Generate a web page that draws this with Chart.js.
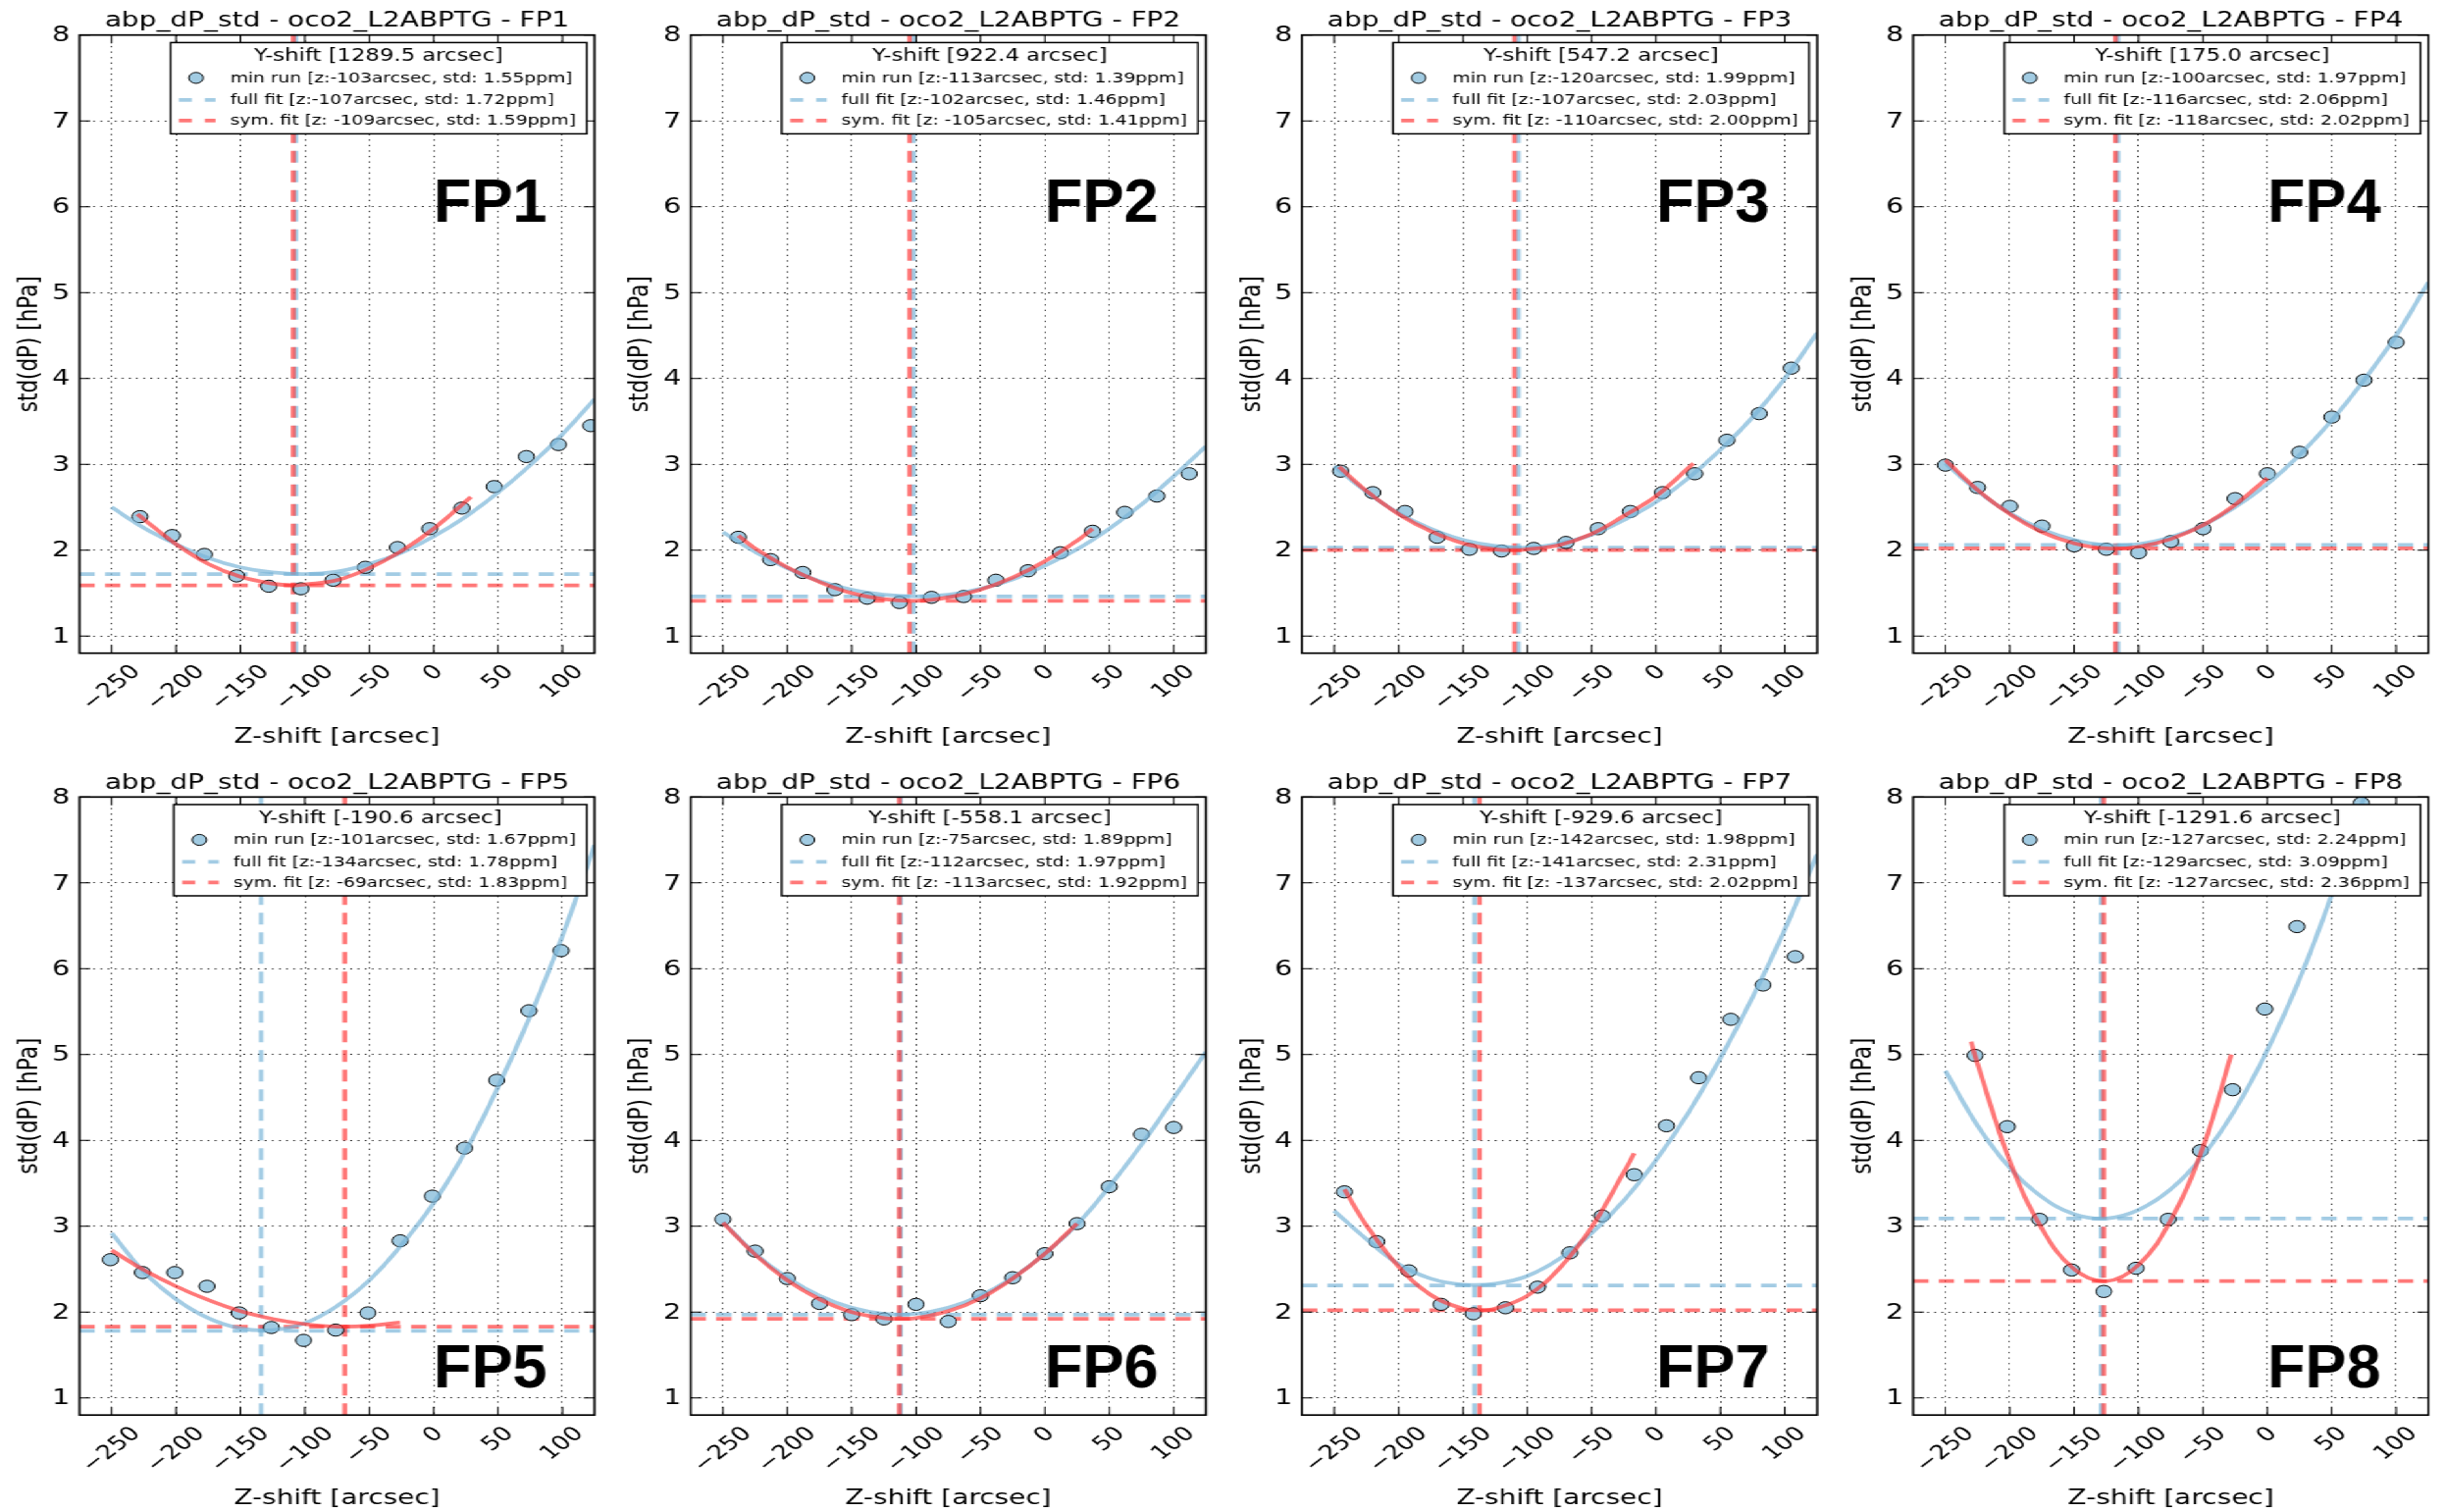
<!DOCTYPE html>
<html>
<head>
<meta charset="utf-8">
<title>abp_dP_std - oco2_L2ABPTG</title>
<script src="https://cdn.jsdelivr.net/npm/chart.js@4.4.1/dist/chart.umd.min.js"></script>
<style>
  html, body { margin: 0; padding: 0; background: #fff; overflow: hidden; }
  #sheet { position: absolute; left: 0; top: 0; width: 1918px; height: 1541px;
           transform-origin: 0 0; transform: scaleX(1.29979); }
  #sheet canvas { position: absolute; }
</style>
</head>
<body>
<div id="sheet"></div>
<script>
// ---- panel summary values (legend entries) ----
const panelNames   = ['FP1', 'FP2', 'FP3', 'FP4', 'FP5', 'FP6', 'FP7', 'FP8'];
const yShiftLabels = ['1289.5', '922.4', '547.2', '175.0', '-190.6', '-558.1', '-929.6', '-1291.6'];
const minRunZ      = [-103, -113, -120, -100, -101, -75, -142, -127];
const minRunStd    = [1.55, 1.39, 1.99, 1.97, 1.67, 1.89, 1.98, 2.24];
const fullFitZ     = [-107, -102, -107, -116, -134, -112, -141, -129];
const fullFitStd   = [1.72, 1.46, 2.03, 2.06, 1.78, 1.97, 2.31, 3.09];
const symFitZ      = [-109, -105, -110, -118, -69, -113, -137, -127];
const symFitStd    = [1.59, 1.41, 2.00, 2.02, 1.83, 1.92, 2.02, 2.36];

// ---- axes ----
const zRange      = [-275, 125];
const stdRange    = [0.8, 8];
const xTickValues = [-250, -200, -150, -100, -50, 0, 50, 100];
const xTickLabels = ['\u2212250', '\u2212200', '\u2212150', '\u2212100', '\u221250', '0', '50', '100'];
const yTickValues = [1, 2, 3, 4, 5, 6, 7, 8];
const yTickLabels = ['1', '2', '3', '4', '5', '6', '7', '8'];

// ---- individual runs (Z-shift, std(dP)) ----
const runZ1 = [-228, -203, -178, -153, -128, -103, -78, -53, -28, -3, 22, 47, 72, 97, 122];
const runS1 = [2.39, 2.17, 1.95, 1.70, 1.58, 1.55, 1.65, 1.80, 2.03, 2.25, 2.49, 2.74, 3.09, 3.23, 3.45];
const runZ2 = [-238, -213, -188, -163, -138, -113, -88, -63, -38, -13, 12, 37, 62, 87, 112];
const runS2 = [2.15, 1.89, 1.74, 1.54, 1.44, 1.39, 1.45, 1.46, 1.65, 1.76, 1.97, 2.22, 2.44, 2.63, 2.89];
const runZ3 = [-245, -220, -195, -170, -145, -120, -95, -70, -45, -20, 5, 30, 55, 80, 105];
const runS3 = [2.92, 2.67, 2.45, 2.15, 2.01, 1.99, 2.02, 2.09, 2.25, 2.45, 2.67, 2.89, 3.28, 3.59, 4.12];
const runZ4 = [-250, -225, -200, -175, -150, -125, -100, -75, -50, -25, 0, 25, 50, 75, 100];
const runS4 = [2.99, 2.73, 2.51, 2.28, 2.05, 2.01, 1.97, 2.10, 2.25, 2.60, 2.89, 3.14, 3.55, 3.98, 4.42];
const runZ5 = [-251, -226, -201, -176, -151, -126, -101, -76, -51, -26, -1, 24, 49, 74, 99];
const runS5 = [2.61, 2.46, 2.46, 2.30, 1.99, 1.82, 1.67, 1.79, 1.99, 2.83, 3.35, 3.91, 4.70, 5.51, 6.21];
const runZ6 = [-250, -225, -200, -175, -150, -125, -100, -75, -50, -25, 0, 25, 50, 75, 100];
const runS6 = [3.08, 2.71, 2.39, 2.10, 1.97, 1.92, 2.09, 1.89, 2.19, 2.40, 2.68, 3.03, 3.46, 4.07, 4.15];
const runZ7 = [-242, -217, -192, -167, -142, -117, -92, -67, -42, -17, 8, 33, 58, 83, 108];
const runS7 = [3.40, 2.82, 2.48, 2.09, 1.98, 2.05, 2.29, 2.69, 3.12, 3.60, 4.17, 4.73, 5.41, 5.81, 6.14];
const runZ8 = [-227, -202, -177, -152, -127, -102, -77, -52, -27, -2, 23, 48, 73];
const runS8 = [4.99, 4.16, 3.08, 2.49, 2.24, 2.51, 3.08, 3.88, 4.59, 5.53, 6.49, 7.20, 7.93];

// ---- full fit curves, sampled on a common Z grid ----
const fullGridZ = [-250, -225, -200, -175, -150, -125, -100, -75, -50, -25, 0, 25, 50, 75, 100, 125];
const fullS1 = [2.50, 2.26, 2.07, 1.91, 1.80, 1.74, 1.72, 1.75, 1.84, 1.97, 2.16, 2.39, 2.67, 2.99, 3.35, 3.76];
const fullS2 = [2.21, 1.98, 1.79, 1.64, 1.54, 1.48, 1.46, 1.48, 1.55, 1.66, 1.82, 2.01, 2.25, 2.53, 2.86, 3.21];
const fullS3 = [2.98, 2.68, 2.43, 2.25, 2.12, 2.05, 2.03, 2.08, 2.18, 2.35, 2.56, 2.84, 3.17, 3.55, 4.00, 4.53];
const fullS4 = [3.01, 2.69, 2.43, 2.24, 2.12, 2.06, 2.07, 2.15, 2.29, 2.50, 2.77, 3.11, 3.51, 3.98, 4.50, 5.12];
const fullS5 = [2.92, 2.47, 2.15, 1.93, 1.81, 1.79, 1.87, 2.07, 2.37, 2.78, 3.27, 3.88, 4.62, 5.45, 6.38, 7.44];
const fullS6 = [3.05, 2.68, 2.40, 2.19, 2.05, 1.98, 1.98, 2.05, 2.19, 2.40, 2.68, 3.02, 3.46, 3.95, 4.49, 5.03];
const fullS7 = [3.18, 2.85, 2.56, 2.39, 2.32, 2.33, 2.42, 2.62, 2.92, 3.30, 3.77, 4.32, 4.96, 5.67, 6.46, 7.33];
const fullS8 = [4.81, 4.17, 3.68, 3.34, 3.14, 3.09, 3.19, 3.43, 3.82, 4.36, 5.05, 5.88, 6.86, 7.99];

// ---- symmetric fit curves ----
const symZ1 = [-230, -225, -200, -175, -150, -125, -109, -100, -75, -50, -25, 0, 29];
const symS1 = [2.42, 2.36, 2.07, 1.84, 1.69, 1.61, 1.59, 1.60, 1.65, 1.79, 1.99, 2.25, 2.62];
const symZ2 = [-238, -225, -200, -175, -150, -125, -100, -75, -50, -25, 0, 25, 37];
const symS2 = [2.17, 2.02, 1.80, 1.63, 1.50, 1.43, 1.41, 1.45, 1.54, 1.68, 1.87, 2.11, 2.25];
const symZ3 = [-246, -225, -200, -175, -150, -125, -110, -100, -75, -50, -25, 0, 29];
const symS3 = [2.97, 2.69, 2.42, 2.22, 2.08, 2.01, 2.00, 2.01, 2.06, 2.19, 2.40, 2.63, 3.01];
const symZ4 = [-250, -225, -200, -175, -150, -125, -100, -75, -50, -25, 0];
const symS4 = [3.05, 2.70, 2.42, 2.21, 2.08, 2.02, 2.04, 2.13, 2.29, 2.53, 2.84];
const symZ5 = [-250, -225, -200, -175, -150, -125, -100, -75, -50, -26];
const symS5 = [2.72, 2.49, 2.30, 2.14, 2.01, 1.92, 1.86, 1.83, 1.84, 1.88];
const symZ6 = [-250, -225, -200, -175, -150, -125, -113, -100, -75, -50, -25, 0, 25];
const symS6 = [3.04, 2.67, 2.37, 2.15, 2.00, 1.93, 1.92, 1.93, 2.01, 2.16, 2.39, 2.68, 3.03];
const symZ7 = [-242, -225, -200, -175, -150, -137, -125, -100, -75, -50, -25, -17];
const symS7 = [3.43, 3.01, 2.53, 2.20, 2.04, 2.02, 2.04, 2.19, 2.51, 2.99, 3.63, 3.85];
const symZ8 = [-230, -225, -200, -175, -150, -125, -100, -75, -50, -28];
const symS8 = [5.15, 4.89, 3.76, 2.97, 2.50, 2.36, 2.55, 3.07, 3.92, 5.00];

const runZ  = [runZ1, runZ2, runZ3, runZ4, runZ5, runZ6, runZ7, runZ8];
const runS  = [runS1, runS2, runS3, runS4, runS5, runS6, runS7, runS8];
const fullS = [fullS1, fullS2, fullS3, fullS4, fullS5, fullS6, fullS7, fullS8];
const symZ  = [symZ1, symZ2, symZ3, symZ4, symZ5, symZ6, symZ7, symZ8];
const symS  = [symS1, symS2, symS3, symS4, symS5, symS6, symS7, symS8];

// ---- look ----
const SX = 2493 / 1918;               // horizontal stretch applied to #sheet
const FONT = '"DejaVu Sans", "Bitstream Vera Sans", sans-serif';
const BLUE = 'rgba(120, 180, 215, 0.68)';
const RED = 'rgba(255, 50, 50, 0.66)';
const MARKER = '#a1cbe2';
const TICK = 8.5;
const LINE_W = 3.7;

const zip = (xs, ys) => ys.map((y, k) => ({ x: xs[k], y }));

const panelDecor = {
  id: 'panelDecor',
  afterDraw(chart, args, opts) {
    const i = opts.index;
    const row = Math.floor(i / 4);
    const ctx = chart.ctx;
    const a = chart.chartArea;
    const xs = chart.scales.x, ys = chart.scales.y;
    ctx.save();
    ctx.setLineDash([]);
    ctx.fillStyle = '#000';
    ctx.strokeStyle = '#000';

    // inward tick marks on all four sides
    ctx.lineWidth = 1.1;
    ctx.beginPath();
    xTickValues.forEach(v => {
      const p = xs.getPixelForValue(v);
      ctx.moveTo(p, a.bottom); ctx.lineTo(p, a.bottom - TICK);
      ctx.moveTo(p, a.top);    ctx.lineTo(p, a.top + TICK);
    });
    yTickValues.forEach(v => {
      const p = ys.getPixelForValue(v);
      ctx.moveTo(a.left, p);  ctx.lineTo(a.left + TICK, p);
      ctx.moveTo(a.right, p); ctx.lineTo(a.right - TICK, p);
    });
    ctx.stroke();

    // legend box
    const rows = [
      `min run [z:${minRunZ[i]}arcsec, std: ${minRunStd[i].toFixed(2)}ppm]`,
      `full fit [z:${fullFitZ[i]}arcsec, std: ${fullFitStd[i].toFixed(2)}ppm]`,
      `sym. fit [z: ${symFitZ[i]}arcsec, std: ${symFitStd[i].toFixed(2)}ppm]`
    ];
    ctx.font = `14.4px ${FONT}`;
    const tw = Math.max(...rows.map(r => ctx.measureText(r).width));
    const bw = 46.7 + tw + 8.5, bh = 93;
    const bx = a.right - 6.2 - bw, by = a.top + 7.7;
    ctx.fillStyle = '#fff';
    ctx.fillRect(bx, by, bw, bh);
    ctx.lineWidth = 1.5;
    ctx.strokeStyle = '#000';
    ctx.strokeRect(bx, by, bw, bh);

    ctx.fillStyle = '#000';
    ctx.font = `17.5px ${FONT}`;
    ctx.textAlign = 'center';
    ctx.textBaseline = 'alphabetic';
    ctx.fillText(`Y-shift [${yShiftLabels[i]} arcsec]`, bx + bw / 2, by + 19);

    const rowY = [by + 36, by + 58.4, by + 79.4];
    // marker handle
    ctx.beginPath();
    ctx.arc(bx + 20, rowY[0], 5.6, 0, Math.PI * 2);
    ctx.fillStyle = MARKER; ctx.fill();
    ctx.lineWidth = 1; ctx.strokeStyle = '#000'; ctx.stroke();
    // dashed handles
    [[BLUE, rowY[1]], [RED, rowY[2]]].forEach(([c, y]) => {
      ctx.strokeStyle = c; ctx.lineWidth = LINE_W;
      ctx.beginPath();
      ctx.moveTo(bx + 6.5, y); ctx.lineTo(bx + 16.7, y);
      ctx.moveTo(bx + 26.9, y); ctx.lineTo(bx + 35.2, y);
      ctx.stroke();
    });
    ctx.fillStyle = '#000';
    ctx.font = `14.4px ${FONT}`;
    ctx.textAlign = 'left';
    ctx.textBaseline = 'middle';
    rows.forEach((r, k) => ctx.fillText(r, bx + 46.7, rowY[k] + 0.5));

    // frame
    ctx.lineWidth = 1.7;
    ctx.strokeStyle = '#000';
    ctx.strokeRect(a.left, a.top, a.right - a.left, a.bottom - a.top);

    // big footprint label (kept unstretched)
    ctx.save();
    const fy = row === 0 ? a.top + 190.3 : a.bottom - 28.5;
    ctx.translate(a.left + 361 / SX, fy);
    ctx.scale(1 / SX, 1);
    ctx.font = 'bold 63px "Liberation Sans", Arial, Helvetica, sans-serif';
    ctx.textAlign = 'left';
    ctx.textBaseline = 'alphabetic';
    ctx.fillStyle = '#000';
    ctx.fillText(panelNames[i], 0, 0);
    ctx.restore();

    // tick labels
    ctx.fillStyle = '#000';
    ctx.font = `22px ${FONT}`;
    ctx.textAlign = 'right';
    ctx.textBaseline = 'middle';
    yTickValues.forEach((v, k) => {
      ctx.fillText(yTickLabels[k], a.left - 7.5, ys.getPixelForValue(v) + 1);
    });
    ctx.font = `20px ${FONT}`;
    ctx.textAlign = 'center';
    xTickValues.forEach((v, k) => {
      const w = ctx.measureText(xTickLabels[k]).width;
      const half = (w + 14) * Math.SQRT1_2 / 2;
      ctx.save();
      ctx.translate(xs.getPixelForValue(v), a.bottom + 11 + half);
      ctx.rotate(-Math.PI / 4);
      ctx.fillText(xTickLabels[k], 0, 0);
      ctx.restore();
    });

    // titles
    const cxm = (a.left + a.right) / 2;
    ctx.font = `21.5px ${FONT}`;
    ctx.textAlign = 'center';
    ctx.textBaseline = 'alphabetic';
    ctx.fillText(`abp_dP_std - oco2_L2ABPTG - ${panelNames[i]}`, cxm, a.top - 8.4);
    ctx.fillText('Z-shift [arcsec]', cxm, a.bottom + 91);
    ctx.save();
    ctx.translate(a.left - 39, (a.top + a.bottom) / 2);
    ctx.rotate(-Math.PI / 2);
    ctx.textBaseline = 'middle';
    ctx.fillText('std(dP) [hPa]', 0, 0);
    ctx.restore();

    ctx.restore();
  }
};

const sheet = document.getElementById('sheet');
for (let i = 0; i < 8; i++) {
  const col = i % 4, row = Math.floor(i / 4);
  const plotL = (81 + 623 * col) / SX, plotW = 525 / SX;
  const plotT = row === 0 ? 35.7 : 812.3;
  const plotB = row === 0 ? 665.7 : 1442.2;
  const cx = Math.round(col * 1918 / 4);
  const cw = Math.round((col + 1) * 1918 / 4) - cx;
  const cy = row === 0 ? 0 : 770, ch = row === 0 ? 770 : 771;

  const canvas = document.createElement('canvas');
  canvas.width = cw; canvas.height = ch;
  canvas.style.left = cx + 'px'; canvas.style.top = cy + 'px';
  canvas.style.width = cw + 'px'; canvas.style.height = ch + 'px';
  sheet.appendChild(canvas);

  const dashed = (pts, color, order) => ({
    data: pts, showLine: true, borderColor: color, borderWidth: LINE_W,
    borderDash: [12, 8], pointRadius: 0, order
  });

  new Chart(canvas, {
    type: 'scatter',
    data: {
      datasets: [
        { label: 'sym. fit', data: zip(symZ[i], symS[i]), showLine: true, borderColor: RED,
          borderWidth: LINE_W, pointRadius: 0, tension: 0.4, order: 1 },
        { label: 'full fit', data: zip(fullGridZ, fullS[i]), showLine: true, borderColor: BLUE,
          borderWidth: LINE_W, pointRadius: 0, tension: 0.4, order: 2 },
        { label: 'min run', data: zip(runZ[i], runS[i]), showLine: false, pointRadius: 6.2,
          pointBackgroundColor: MARKER, pointBorderColor: '#000', pointBorderWidth: 1, order: 3 },
        dashed([{ x: symFitZ[i], y: stdRange[0] }, { x: symFitZ[i], y: stdRange[1] }], RED, 4),
        dashed([{ x: zRange[0], y: symFitStd[i] }, { x: zRange[1], y: symFitStd[i] }], RED, 4),
        dashed([{ x: fullFitZ[i], y: stdRange[0] }, { x: fullFitZ[i], y: stdRange[1] }], BLUE, 5),
        dashed([{ x: zRange[0], y: fullFitStd[i] }, { x: zRange[1], y: fullFitStd[i] }], BLUE, 5)
      ]
    },
    options: {
      responsive: false,
      animation: false,
      devicePixelRatio: 1,
      events: [],
      layout: {
        autoPadding: false,
        padding: { left: plotL - cx, right: cx + cw - (plotL + plotW), top: plotT - cy, bottom: cy + ch - plotB }
      },
      plugins: { legend: { display: false }, tooltip: { enabled: false }, panelDecor: { index: i } },
      scales: {
        x: {
          type: 'linear', min: zRange[0], max: zRange[1],
          afterBuildTicks: s => { s.ticks = xTickValues.map(v => ({ value: v })); },
          ticks: { display: false },
          grid: { color: '#111', lineWidth: 1, drawTicks: false },
          border: { display: false, dash: [1.3, 4.3] }
        },
        y: {
          type: 'linear', min: stdRange[0], max: stdRange[1],
          afterBuildTicks: s => { s.ticks = yTickValues.map(v => ({ value: v })); },
          ticks: { display: false },
          grid: { color: '#111', lineWidth: 1, drawTicks: false },
          border: { display: false, dash: [1.3, 4.3] }
        }
      }
    },
    plugins: [panelDecor]
  });
}
</script>
</body>
</html>
